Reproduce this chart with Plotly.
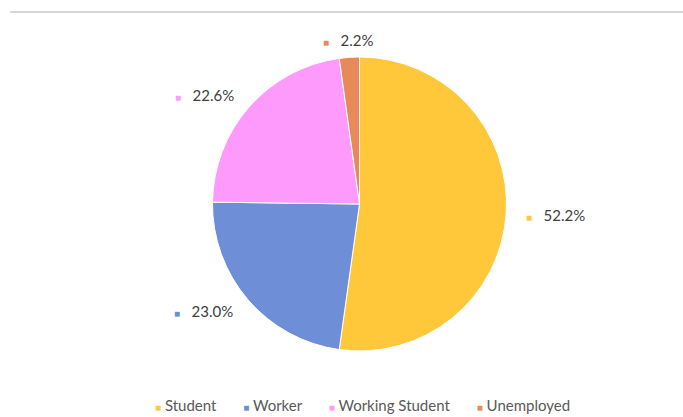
import math
import plotly.graph_objects as go

categories = ["Student", "Worker", "Working Student", "Unemployed"]
values = [52.2, 23.0, 22.6, 2.2]
colors = ["#FFC73A", "#6E8FD8", "#FD9AFC", "#E8895A"]

W, H = 683, 417
ml, mr, mt, mb = 36, 0, 57, 66
pw, ph = W - ml - mr, H - mt - mb
cx, cy = ml + pw / 2, mt + ph / 2
R = min(pw, ph) / 2
FONT = "Lato, Carlito, sans-serif"

fig = go.Figure(go.Pie(
    labels=categories, values=values, sort=False, direction="clockwise",
    rotation=0, marker=dict(colors=colors, line=dict(color="white", width=1)),
    textinfo="none", hoverinfo="label+percent", showlegend=False,
))

total = sum(values)
cum = 0.0
annotations = []
for cat, v, col in zip(categories, values, colors):
    mid = (cum + v / 2) / total * 2 * math.pi
    cum += v
    r = 1.12 * R
    s = math.sin(mid)
    px = cx + r * s
    py = cy - r * math.cos(mid)
    anchor = "center" if abs(s) < 0.3 else ("left" if s > 0 else "right")
    annotations.append(dict(
        x=(px - ml) / pw, y=(mt + ph - py) / ph, xref="paper", yref="paper",
        xanchor=anchor, yanchor="middle",
        text=f"<span style='color:{col};font-size:10px'>■</span>&nbsp;&nbsp;&nbsp;{v:.1f}%",
        showarrow=False, font=dict(family=FONT, size=15, color="#404040"),
    ))

legend_text = "&nbsp;&nbsp;&nbsp;&nbsp;&nbsp;&nbsp;&nbsp;".join(
    f"<span style='color:{col};font-size:10px'>■</span>&nbsp;{cat}" for cat, col in zip(categories, colors)
)
annotations.append(dict(
    x=(362 - ml) / pw, y=(mt + ph - 405) / ph, xref="paper", yref="paper",
    xanchor="center", yanchor="middle", text=legend_text, showarrow=False,
    font=dict(family=FONT, size=15, color="#595959"),
))

fig.update_layout(
    width=W, height=H, margin=dict(l=ml, r=mr, t=mt, b=mb),
    paper_bgcolor="white", plot_bgcolor="white",
    annotations=annotations,
    shapes=[dict(type="line", xref="paper", yref="paper",
                 x0=(10 - ml) / pw, x1=1, y0=(mt + ph - 12) / ph, y1=(mt + ph - 12) / ph,
                 line=dict(color="#C8C8C8", width=1.5))],
)

fig.write_html("out.html")
